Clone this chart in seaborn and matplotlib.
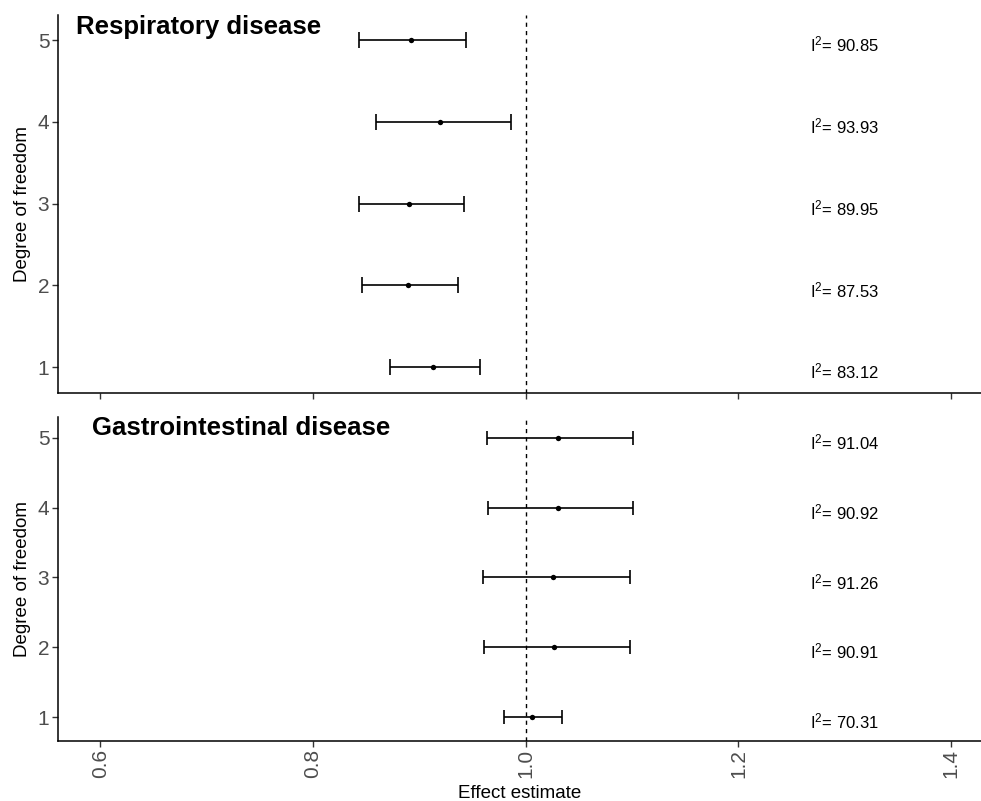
import matplotlib
matplotlib.use("Agg")
import pandas as pd
import matplotlib.pyplot as plt
import seaborn as sns

# 0. Settings
sns.set_theme(style="ticks")
plt.rcParams["font.family"] = ["Liberation Sans", "DejaVu Sans"]

# 1. Data
degrees = [1, 2, 3, 4, 5]

resp_est = [0.913, 0.889, 0.890, 0.919, 0.892]
resp_lo = [0.872, 0.846, 0.843, 0.859, 0.843]
resp_hi = [0.957, 0.936, 0.942, 0.986, 0.944]
resp_i2 = [83.12, 87.53, 89.95, 93.93, 90.85]

gi_est = [1.006, 1.027, 1.026, 1.030, 1.030]
gi_lo = [0.980, 0.961, 0.960, 0.965, 0.964]
gi_hi = [1.034, 1.098, 1.098, 1.101, 1.101]
gi_i2 = [70.31, 90.91, 91.26, 90.92, 91.04]

diseases = ["Respiratory disease", "Gastrointestinal disease"]
x_ticks = [0.6, 0.8, 1.0, 1.2, 1.4]

frames = []
for name, est, lo, hi, i2 in [
    (diseases[0], resp_est, resp_lo, resp_hi, resp_i2),
    (diseases[1], gi_est, gi_lo, gi_hi, gi_i2),
]:
    frames.append(pd.DataFrame({"disease": name, "df": degrees, "est": est,
                                "lo": lo, "hi": hi, "i2": i2}))
df = pd.concat(frames, ignore_index=True)

# 2. Figure with two stacked panels
fig = plt.figure(figsize=(9.81, 8.01), dpi=100)
ax_top = fig.add_axes([0.0588, 0.5094, 0.9412, 0.4719])
ax_bot = fig.add_axes([0.0588, 0.0753, 0.9412, 0.4045])

panels = [
    (ax_top, diseases[0], (0.686, 5.306), (0.0198, 0.949)),
    (ax_bot, diseases[1], (0.665, 5.300), (0.0372, 0.9435)),
]

XLIM = (0.560, 1.428)
for ax, name, ylim, title_pos in panels:
    sub = df[df["disease"] == name]
    ax.set_xlim(*XLIM)
    ax.set_ylim(*ylim)

    # cap half-height = 0.1 data units, converted to points
    h_pts = ax.get_position().height * fig.get_figheight() * 72
    cap = 0.1 * h_pts / (ylim[1] - ylim[0])

    ax.errorbar(sub["est"], sub["df"],
                xerr=[sub["est"] - sub["lo"], sub["hi"] - sub["est"]],
                fmt="none", ecolor="black", elinewidth=1.2,
                capsize=cap, capthick=1.2, zorder=2)
    sns.scatterplot(data=sub, x="est", y="df", color="black", s=15,
                    linewidth=0, ax=ax, legend=False, zorder=3)
    ax.axvline(1.0, color="black", lw=1.0, ls=(0, (3, 3)), zorder=1)

    for _, row in sub.iterrows():
        ax.annotate(r"$\mathregular{I^2}$= " + f"{row['i2']:.2f}",
                    xy=(1.3, row["df"]), xytext=(0, -8.3),
                    textcoords="offset points", ha="center", va="baseline",
                    fontsize=12, color="black")

    ax.text(title_pos[0], title_pos[1], name, transform=ax.transAxes,
            ha="left", va="baseline", fontsize=18.5, fontweight="bold",
            color="black")

    ax.set_yticks(degrees)
    ax.set_xticks(x_ticks)
    ax.set_xticklabels([f"{v:.1f}" for v in x_ticks])
    ax.tick_params(axis="both", labelsize=15, labelcolor="#4D4D4D",
                   color="#333333", length=4, width=1, pad=2)
    ax.tick_params(axis="x", labelrotation=90)
    ax.set_ylabel("Degree of freedom", fontsize=13.5, color="black",
                  labelpad=5)
    ax.set_xlabel("")
    sns.despine(ax=ax)
    for side in ["left", "bottom"]:
        ax.spines[side].set_color("black")
        ax.spines[side].set_linewidth(1.1)

ax_top.tick_params(axis="x", labelbottom=False)
ax_bot.set_xlabel("Effect estimate", fontsize=13.5, color="black",
                  labelpad=5)

fig.savefig("out.png", dpi=100, facecolor="white")
